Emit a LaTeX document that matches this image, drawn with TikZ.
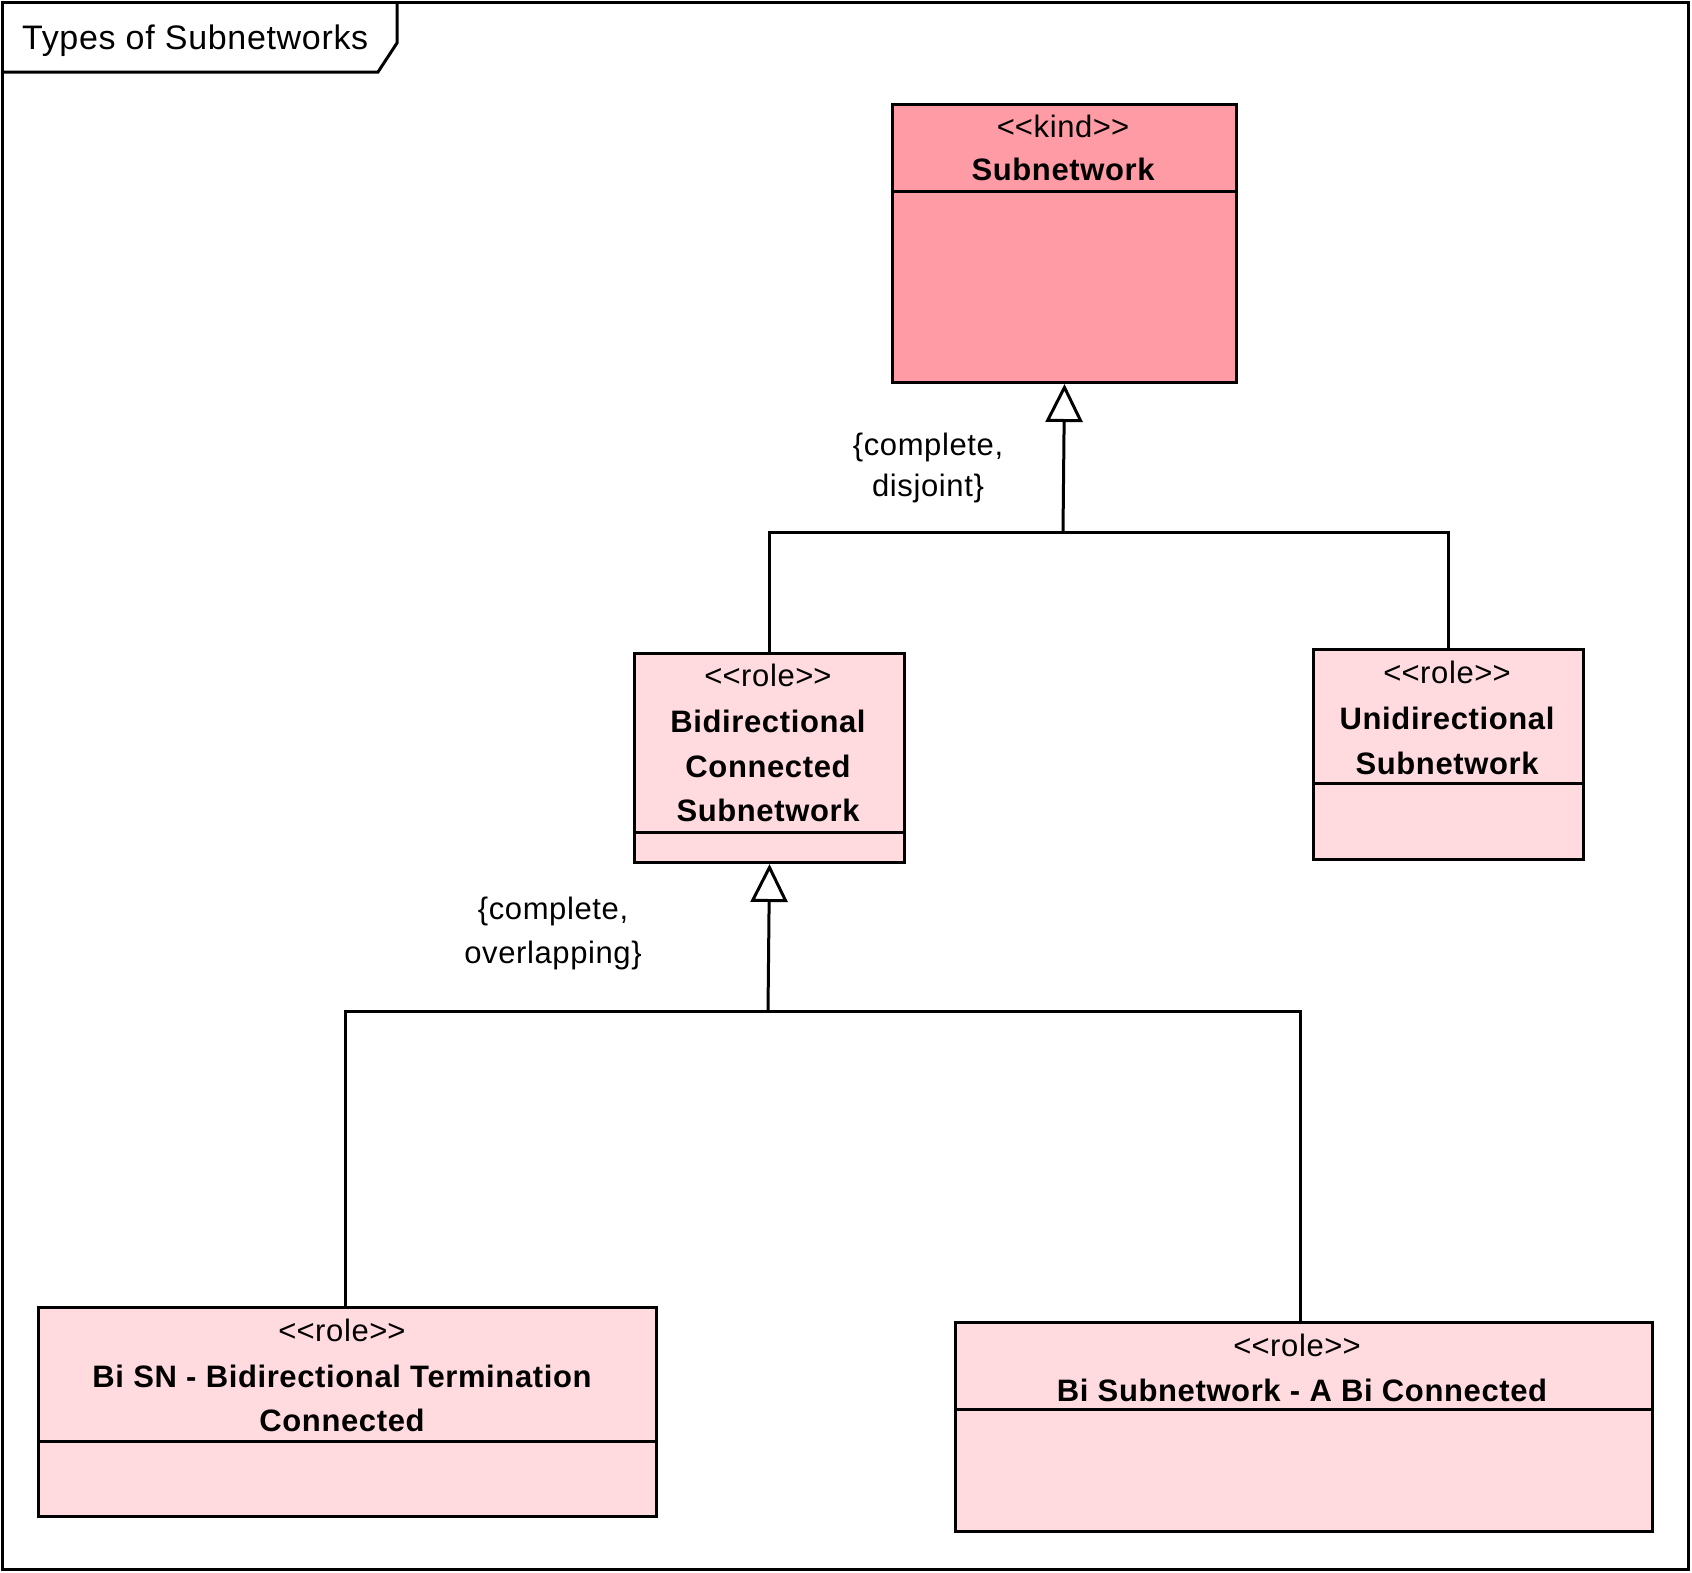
\documentclass[tikz,border=0pt]{standalone}
\usepackage{fontspec}
\setmainfont{Liberation Sans}[LetterSpace=2]
\usetikzlibrary{arrows.meta}
\definecolor{kindfill}{RGB}{255,155,164}
\definecolor{rolefill}{RGB}{255,218,222}
\newcommand\stereo[1]{<\kern0pt<#1>\kern0pt>}
\begin{document}
\begin{tikzpicture}[x=1pt,y=-1pt,
  box/.style={draw, line width=3pt, inner sep=0pt, anchor=north west},
  txt/.style={anchor=base, inner sep=0pt, font=\fontsize{31}{36}\selectfont},
  bold/.style={anchor=base, inner sep=0pt, font=\fontsize{31}{36}\selectfont\bfseries},
  conn/.style={line width=3pt},
  gen/.style={line width=3pt, -{Triangle[open, length=38pt, width=37pt, fill=white]}},
  divider/.style={line width=3pt}]
\useasboundingbox (0,0) rectangle (1692,1572);
% frame
\draw[line width=3pt] (2,2) rectangle (1688,1569);
\draw[line width=3pt] (2,72) -- (378,72) -- (397,43) -- (397,2);
\node[anchor=base west, inner sep=0pt, font=\fontsize{34}{40}\selectfont] (title) at (22,49) {Types of Subnetworks};
% Subnetwork (kind)
\node[box, fill=kindfill, minimum width=344pt, minimum height=278pt] (sub) at (891,103) {};
\draw[divider] (sub.west |- 0,191) -- (sub.east |- 0,191);
\node[txt] (subst) at (1063,137) {\stereo{kind}};
\node[bold] (subnm) at (1063,180) {Subnetwork};
% Bidirectional
\node[box, fill=rolefill, minimum width=270pt, minimum height=209pt] (bidi) at (633,652) {};
\draw[divider] (bidi.west |- 0,832) -- (bidi.east |- 0,832);
\node[txt] (bidist) at (768,686) {\stereo{role}};
\node[bold] (bidinm1) at (768,732) {Bidirectional};
\node[bold] (bidinm2) at (768,777) {Connected};
\node[bold] (bidinm3) at (768,821) {Subnetwork};
% Unidirectional
\node[box, fill=rolefill, minimum width=270pt, minimum height=210pt] (uni) at (1312,648) {};
\draw[divider] (uni.west |- 0,783) -- (uni.east |- 0,783);
\node[txt] (unist) at (1447,683) {\stereo{role}};
\node[bold] (uninm1) at (1447,729) {Unidirectional};
\node[bold] (uninm2) at (1447,774) {Subnetwork};
% Bi SN
\node[box, fill=rolefill, minimum width=618pt, minimum height=209pt] (bisn) at (37,1306) {};
\draw[divider] (bisn.west |- 0,1441) -- (bisn.east |- 0,1441);
\node[txt] (bisnst) at (342,1341) {\stereo{role}};
\node[bold] (bisnnm1) at (342,1387) {Bi SN - Bidirectional Termination};
\node[bold] (bisnnm2) at (342,1431) {Connected};
% Bi Subnetwork
\node[box, fill=rolefill, minimum width=697pt, minimum height=209pt] (bisub) at (954,1321) {};
\draw[divider] (bisub.west |- 0,1409) -- (bisub.east |- 0,1409);
\node[txt] (bisubst) at (1297,1356) {\stereo{role}};
\node[bold] (bisubnm) at (1302,1401) {Bi Subnetwork - A Bi Connected};
% generalization 1
\coordinate (j1) at (1063,532);
\draw[conn] (bidi.north) |- (j1) -| (uni.north);
\draw[gen] (j1) -- (sub.south);
\node[txt] (lab1a) at (928,455) {\{complete,};
\node[txt] (lab1b) at (928,496) {disjoint\}};
% generalization 2
\coordinate (j2) at (768,1011);
\draw[conn] (bisn.north -| 345,0) |- (j2) -| (bisub.north -| 1300,0);
\draw[gen] (j2) -- (bidi.south);
\node[txt] (lab2a) at (553,919) {\{complete,};
\node[txt] (lab2b) at (553,963) {overlapping\}};
\end{tikzpicture}
\end{document}
